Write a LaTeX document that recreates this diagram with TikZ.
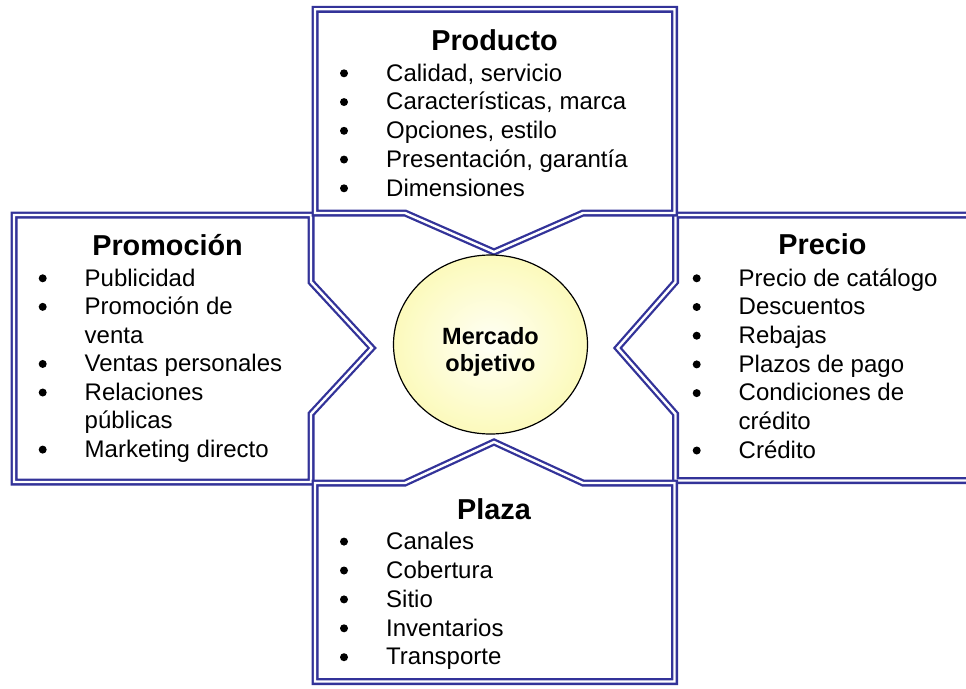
\documentclass[tikz,border=0pt]{standalone}
\usepackage{fontspec}
\setmainfont{Liberation Sans}
\usetikzlibrary{shapes.geometric}

\definecolor{frameblue}{RGB}{51,51,153}
\definecolor{discin}{RGB}{255,255,246}
\definecolor{discout}{RGB}{252,250,188}

\begin{document}
\begin{tikzpicture}[x=1pt,y=-1pt,
  frame/.style={draw=frameblue, double=white, line width=2.3pt, double distance=2.4pt, line join=miter},
  head/.style={anchor=base, inner sep=0pt, font=\bfseries\fontsize{28.8}{33}\selectfont},
  itm/.style={anchor=base west, inner sep=0pt, font=\fontsize{24}{28.75}\selectfont},
  dot/.style={circle, fill=black, inner sep=0pt, minimum size=8pt},
  hubtext/.style={anchor=base, inner sep=0pt, font=\bfseries\fontsize{23.5}{27.7}\selectfont}]

\useasboundingbox (0,0) rectangle (966,688);

\begin{scope}
  \clip (0,0) rectangle (966,688);
  % Promocion: panel pointing right
  \draw[frame] (14,215) -- (311,215) -- (311,282) -- (372,348) -- (311,414)
               -- (311,482) -- (14,482) -- cycle;
  % Precio: panel pointing left, running off the right edge
  \draw[frame] (675.5,215) -- (990,215) -- (990,480.5) -- (675.5,480.5)
               -- (675.5,414) -- (617.5,348) -- (675.5,282) -- cycle;
  % Producto: panel pointing down
  \draw[frame] (315,9.25) -- (674.5,9.25) -- (674.5,213) -- (583,213)
               -- (494,252) -- (405,213) -- (315,213) -- cycle;
  % Plaza: panel pointing up
  \draw[frame] (315,483) -- (405,483) -- (494,442) -- (583,483) -- (674.5,483)
               -- (674.5,681.5) -- (315,681.5) -- cycle;
\end{scope}

% central target market disc
\node[ellipse, draw=black, line width=1.2pt, minimum width=194pt, minimum height=179pt,
      inner sep=0pt, inner color=discin, outer color=discout] (hub) at (490.5,344.5) {};
\node[hubtext] (hub1) at (490.5,344) {Mercado};
\node[hubtext] (hub2) at (490.5,371.7) {objetivo};

% headings
\node[head] (prodh) at (494.5,50) {Producto};
\node[head] (promh) at (167.5,255) {Promoción};
\node[head] (preh)  at (822.5,254.3) {Precio};
\node[head] (plah)  at (494,519) {Plaza};

% Producto items
\foreach \t [count=\i] in {{Calidad, servicio},{Características, marca},{Opciones, estilo},{Presentación, garantía},Dimensiones} {
  \node[dot] (prodb\i) at (344,{81-7.7+28.75*(\i-1)}) {};
  \node[itm] (prodt\i) at (386,{81+28.75*(\i-1)}) {\t};
}

% Promocion items (0 marks a wrapped continuation line)
\foreach \b/\t [count=\i] in {1/Publicidad,1/Promoción de,0/venta,1/Ventas personales,1/Relaciones,0/públicas,1/Marketing directo} {
  \ifnum\b=1 \node[dot] (promb\i) at (42.7,{286-7.7+28.55*(\i-1)}) {}; \fi
  \node[itm] (promt\i) at (84.5,{286+28.55*(\i-1)}) {\t};
}

% Precio items
\foreach \b/\t [count=\i] in {1/Precio de catálogo,1/Descuentos,1/Rebajas,1/Plazos de pago,1/Condiciones de,0/crédito,1/Crédito} {
  \ifnum\b=1 \node[dot] (preb\i) at (696.7,{286-7.7+28.7*(\i-1)}) {}; \fi
  \node[itm] (pret\i) at (738.5,{286+28.7*(\i-1)}) {\t};
}

% Plaza items
\foreach \t [count=\i] in {Canales,Cobertura,Sitio,Inventarios,Transporte} {
  \node[dot] (plab\i) at (344,{549.3-7.7+28.9*(\i-1)}) {};
  \node[itm] (plat\i) at (386,{549.3+28.9*(\i-1)}) {\t};
}
\end{tikzpicture}
\end{document}
